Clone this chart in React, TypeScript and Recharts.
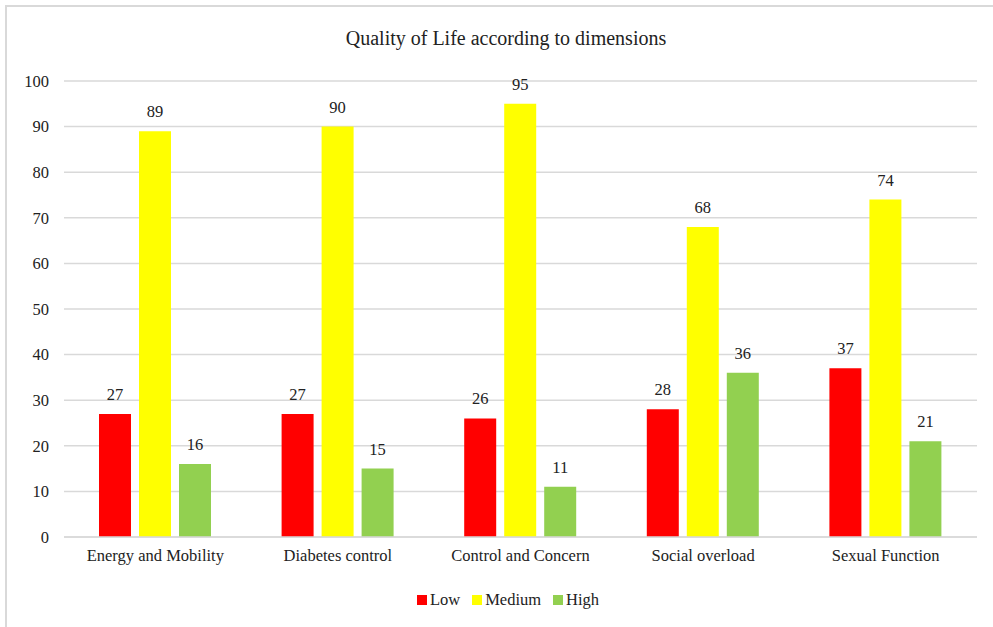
import { Bar, BarChart, CartesianGrid, LabelList, XAxis, YAxis } from "recharts";

const categories = [
  "Energy and Mobility",
  "Diabetes control",
  "Control and Concern",
  "Social overload",
  "Sexual Function",
];
const low = [27, 27, 26, 28, 37];
const medium = [89, 90, 95, 68, 74];
const high = [16, 15, 11, 36, 21];
const yTicks = [0, 10, 20, 30, 40, 50, 60, 70, 80, 90, 100];

const series = [
  { key: "Low", color: "#ff0000" },
  { key: "Medium", color: "#ffff00" },
  { key: "High", color: "#92d050" },
];

const chartData = categories.map((name, i) => ({
  name,
  Low: low[i],
  Medium: medium[i],
  High: high[i],
}));

const font = "'Liberation Serif', serif";

export default function App() {
  return (
    <div
      style={{
        position: "fixed",
        left: 0,
        top: 0,
        width: 993,
        height: 627,
        background: "#fff",
        fontFamily: font,
        overflow: "hidden",
      }}
    >
      <div
        style={{
          position: "absolute",
          left: 5,
          top: 5,
          width: 1000,
          height: 700,
          borderLeft: "2px solid #d9d9d9",
          borderTop: "2px solid #d9d9d9",
        }}
      />
      <div
        style={{
          position: "absolute",
          top: 27,
          left: 0,
          width: 1012,
          textAlign: "center",
          fontSize: 20,
          color: "#222",
        }}
      >
        Quality of Life according to dimensions
      </div>
      <BarChart
        width={993}
        height={627}
        data={chartData}
        margin={{ top: 81, right: 16, left: 0, bottom: 60 }}
        barSize={32}
        barGap={8}
        style={{ position: "absolute", left: 0, top: 0, fontFamily: font }}
      >
        <CartesianGrid vertical={false} stroke="#d9d9d9" strokeWidth={1.5} />
        <XAxis
          dataKey="name"
          tickLine={false}
          axisLine={{ stroke: "#d9d9d9", strokeWidth: 1.5 }}
          tick={{ fill: "#222", fontSize: 16.5 }}
          tickMargin={6}
          height={30}
        />
        <YAxis
          domain={[0, 100]}
          ticks={yTicks}
          axisLine={false}
          tickLine={false}
          tick={{ fill: "#222", fontSize: 16.5 }}
          tickMargin={9}
          width={64}
        />
        {series.map((s) => (
          <Bar key={s.key} dataKey={s.key} fill={s.color} isAnimationActive={false}>
            <LabelList dataKey={s.key} position="top" offset={14} fill="#222" fontSize={16.5} />
          </Bar>
        ))}
      </BarChart>
      <div
        style={{
          position: "absolute",
          top: 590,
          left: 0,
          width: 1016,
          display: "flex",
          justifyContent: "center",
          gap: 12,
          fontSize: 16.5,
          color: "#222",
        }}
      >
        {series.map((s) => (
          <div key={s.key} style={{ display: "flex", alignItems: "center", gap: 3 }}>
            <span style={{ display: "inline-block", width: 10, height: 10, background: s.color }} />
            <span>{s.key}</span>
          </div>
        ))}
      </div>
    </div>
  );
}
